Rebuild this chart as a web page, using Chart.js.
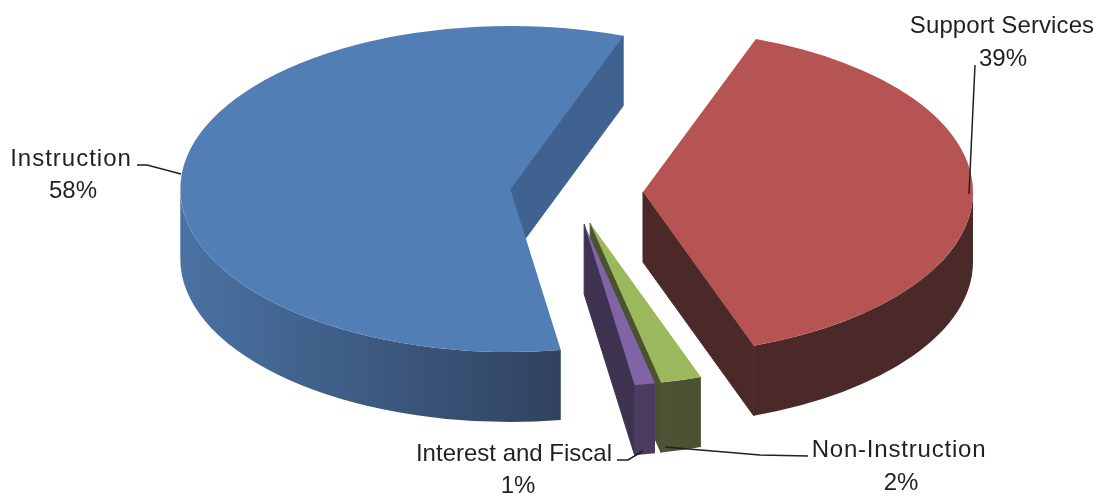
<!DOCTYPE html>
<html>
<head>
<meta charset="utf-8">
<title>Expenditures by function</title>
<script src="https://cdn.jsdelivr.net/npm/chart.js@4"></script>
<style>
  body { margin: 0; background: #fff; }
  canvas { display: block; }
</style>
</head>
<body>
<canvas id="myChart" width="1099" height="496"></canvas>
<script>
var categories = ['Support Services', 'Non-Instruction', 'Interest and Fiscal', 'Instruction'];
var shares = [39, 2, 1, 58];

var topColors = ['#b55452', '#9bb85c', '#8064a5', '#517eb5'];
var cutColors = ['#4a2928', '#4a5230', '#3d3350', '#3f6290'];
// outer wall shading, left to right
var wallColors = [
    ['#4a2928', '#4a2a29'],
    ['#4b5433', '#4a5233'],
    ['#4b3d5f', '#4a3c5e'],
    ['#4a72a3', '#30425f']
];

var explode = [71, 66, 66, 62]; // how far each slice is pulled out
var tilt = 0.494;               // squash of the pie
var depth = 70;                 // height of the walls
var drawOrder = [3, 0, 1, 2];   // back to front

// label position, letter spacing and leader line for each category
var labelSpots = [
    { x: 1002, y: 33, y2: 66, x2: 1003, gap: 0.1, line: [[975, 65], [969, 194]] },
    { x: 899, y: 457, y2: 490, x2: 901, gap: 0.8, line: [[665, 447], [760, 455], [808, 456]] },
    { x: 514, y: 461, y2: 493, x2: 518, gap: 0, line: [[617, 460], [628, 460], [643, 451]] },
    { x: 71, y: 166, y2: 198, x2: 73, gap: 1, line: [[137, 165], [147, 165], [181, 174]] }
];

function sliceCenter(arc, i) {
    var mid = (arc.startAngle + arc.endAngle) / 2;
    return {
        x: arc.x + Math.cos(mid) * explode[i],
        y: arc.y + Math.sin(mid) * explode[i] * tilt
    };
}

function drawCutWall(ctx, c, r, angle, color) {
    var ex = c.x + Math.cos(angle) * r;
    var ey = c.y + Math.sin(angle) * r * tilt;
    ctx.fillStyle = color;
    ctx.strokeStyle = color; // stroke closes the seam against the outer wall
    ctx.lineWidth = 1;
    ctx.beginPath();
    ctx.moveTo(c.x, c.y);
    ctx.lineTo(ex, ey);
    ctx.lineTo(ex, ey + depth);
    ctx.lineTo(c.x, c.y + depth);
    ctx.closePath();
    ctx.fill();
    ctx.stroke();
}

function drawOuterWall(ctx, c, r, a0, a1, colors) {
    // only the part facing the viewer
    var from = Math.max(a0, 0);
    var to = Math.min(a1, Math.PI);
    if (to <= from) return;
    var left = c.x + Math.cos(to) * r;
    var right = c.x + Math.cos(from) * r;
    var grad = ctx.createLinearGradient(left, 0, right, 0);
    grad.addColorStop(0, colors[0]);
    grad.addColorStop(1, colors[1]);
    ctx.fillStyle = grad;
    ctx.beginPath();
    ctx.ellipse(c.x, c.y, r, r * tilt, 0, from, to, false);
    ctx.ellipse(c.x, c.y + depth, r, r * tilt, 0, to, from, true);
    ctx.closePath();
    ctx.fill();
}

var piePlugin = {
    id: 'tiltedPie',
    beforeDatasetDraw: function(chart) {
        var ctx = chart.ctx;
        var arcs = chart.getDatasetMeta(0).data;

        // walls first
        drawOrder.forEach(function(i) {
            var arc = arcs[i];
            var c = sliceCenter(arc, i);
            var r = arc.outerRadius;
            if (Math.cos(arc.startAngle) < 0) drawCutWall(ctx, c, r, arc.startAngle, cutColors[i]);
            if (Math.cos(arc.endAngle) > 0) drawCutWall(ctx, c, r, arc.endAngle, cutColors[i]);
            drawOuterWall(ctx, c, r, arc.startAngle, arc.endAngle, wallColors[i]);
        });

        // then the slices themselves, squashed and pulled apart
        drawOrder.forEach(function(i) {
            var arc = arcs[i];
            var c = sliceCenter(arc, i);
            ctx.save();
            ctx.translate(c.x, c.y);
            ctx.scale(1, tilt);
            ctx.translate(-arc.x, -arc.y);
            arc.draw(ctx);
            ctx.restore();
        });
        return false;
    },
    afterDraw: function(chart) {
        var ctx = chart.ctx;
        ctx.save();
        ctx.strokeStyle = '#231f20';
        ctx.lineWidth = 1.5;
        ctx.fillStyle = '#231f20';
        ctx.font = '24px "Liberation Sans", Arial, sans-serif';
        ctx.textAlign = 'center';
        categories.forEach(function(name, i) {
            var spot = labelSpots[i];
            ctx.letterSpacing = spot.gap + 'px';
            ctx.fillText(name, spot.x, spot.y);
            ctx.letterSpacing = '0px';
            ctx.fillText(shares[i] + '%', spot.x2, spot.y2);
            ctx.beginPath();
            spot.line.forEach(function(p, n) {
                if (n == 0) ctx.moveTo(p[0], p[1]);
                else ctx.lineTo(p[0], p[1]);
            });
            ctx.stroke();
        });
        ctx.restore();
    }
};

var chart = new Chart(document.getElementById('myChart').getContext('2d'), {
    type: 'pie',
    data: {
        labels: categories,
        datasets: [{
            data: shares,
            backgroundColor: topColors,
            borderWidth: 0,
            clip: false
        }]
    },
    options: {
        responsive: false,
        animation: false,
        rotation: 20,
        radius: 330,
        layout: { padding: { left: 45, bottom: 112 } },
        plugins: {
            legend: { display: false },
            tooltip: { enabled: false }
        }
    },
    plugins: [piePlugin]
});
</script>
</body>
</html>
